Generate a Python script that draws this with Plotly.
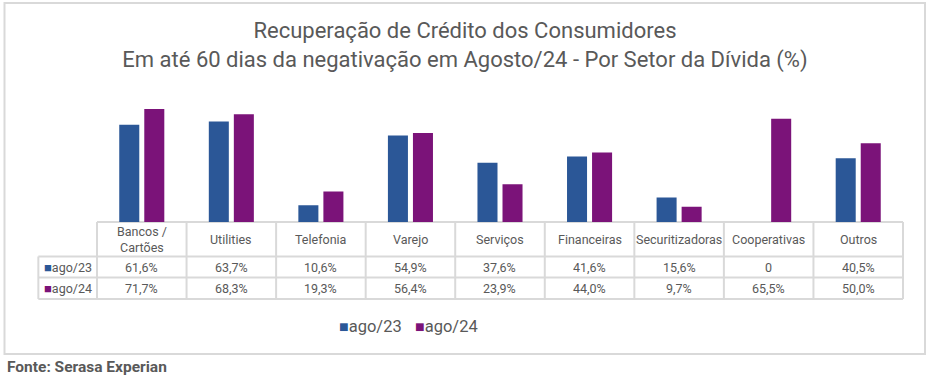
import plotly.graph_objects as go

categories = ["Bancos /<br>Cartões", "Utilities", "Telefonia", "Varejo", "Serviços",
              "Financeiras", "Securitizadoras", "Cooperativas", "Outros"]
series_names = ["ago/23", "ago/24"]
ago23 = [61.6, 63.7, 10.6, 54.9, 37.6, 41.6, 15.6, 0, 40.5]
ago24 = [71.7, 68.3, 19.3, 56.4, 23.9, 44.0, 9.7, 65.5, 50.0]
ago23_labels = ["61,6%", "63,7%", "10,6%", "54,9%", "37,6%", "41,6%", "15,6%", "0", "40,5%"]
ago24_labels = ["71,7%", "68,3%", "19,3%", "56,4%", "23,9%", "44,0%", "9,7%", "65,5%", "50,0%"]
colors = ["#2B5797", "#7B1379"]

W, H = 930, 385
TEXT = "#595959"
GRID = "#d9d9d9"
FONT = "Roboto"


def py(px):
    return (H - px) / H


def fx(px):
    return px / W


n = len(categories)
x_idx = list(range(n))

fig = go.Figure()
for name, vals, col in zip(series_names, [ago23, ago24], colors):
    fig.add_trace(go.Bar(x=x_idx, y=vals, name=name, marker_color=col,
                         marker_line_width=0, hoverinfo="skip", showlegend=False))

x_left = -1.155   # row-label column edge
x_min, x_max = -1.17, 8.52
px_per_unit = 806 / 9.0
dom_l = 97 - (-0.5 - x_min) * px_per_unit
dom_r = 903 + (x_max - 8.5) * px_per_unit

shapes = []
line = dict(color=GRID, width=2)
shapes.append(dict(type="line", xref="x", yref="paper", x0=-0.5, x1=n - 0.5,
                   y0=py(222), y1=py(222), line=line, layer="below"))
for yy in [256.5, 277.5, 299]:
    shapes.append(dict(type="line", xref="x", yref="paper", x0=x_left, x1=n - 0.5,
                       y0=py(yy), y1=py(yy), line=line, layer="below"))
for i in range(n + 1):
    xb = i - 0.5
    shapes.append(dict(type="line", xref="x", yref="paper", x0=xb, x1=xb,
                       y0=py(222), y1=py(299), line=line, layer="below"))
shapes.append(dict(type="line", xref="x", yref="paper", x0=x_left, x1=x_left,
                   y0=py(256.5), y1=py(299), line=line, layer="below"))
shapes.append(dict(type="rect", xref="paper", yref="paper", x0=fx(4.5), x1=fx(925),
                   y0=py(354), y1=py(3), line=dict(color=GRID, width=2), layer="below"))

tfont = dict(family=FONT, size=12.5, color=TEXT)
annotations = []
for i, c in enumerate(categories):
    annotations.append(dict(x=i, y=py(239.5), xref="x", yref="paper", text=c,
                            showarrow=False, font=tfont, xanchor="center", yanchor="middle"))
    annotations.append(dict(x=i, y=py(267), xref="x", yref="paper", text=ago23_labels[i],
                            showarrow=False, font=tfont, xanchor="center", yanchor="middle"))
    annotations.append(dict(x=i, y=py(288), xref="x", yref="paper", text=ago24_labels[i],
                            showarrow=False, font=tfont, xanchor="center", yanchor="middle"))
for name, col, yy in zip(series_names, colors, [267, 288]):
    annotations.append(dict(x=x_left + 0.04, y=py(yy), xref="x", yref="paper",
                            text=f'<span style="color:{col};font-size:13px">■</span>{name}',
                            showarrow=False, font=tfont, xanchor="left", yanchor="middle"))
# legend
for name, col, xl in zip(series_names, colors, [337, 413]):
    annotations.append(dict(x=fx(xl), y=py(326), xref="paper", yref="paper",
                            text=f'<span style="color:{col};font-size:16px">■</span>{name}',
                            showarrow=False, font=dict(family=FONT, size=16.5, color=TEXT),
                            xanchor="left", yanchor="middle"))
annotations.append(dict(x=fx(5), y=py(367), xref="paper", yref="paper",
                        text="<b>Fonte: Serasa Experian</b>", showarrow=False,
                        font=dict(family=FONT, size=15.5, color=TEXT),
                        xanchor="left", yanchor="middle"))

fig.update_layout(
    width=W, height=H,
    margin=dict(l=0, r=0, t=0, b=0),
    paper_bgcolor="white", plot_bgcolor="white",
    barmode="group", bargap=0.441, bargroupgap=0.2,
    title=dict(text="Recuperação de Crédito dos Consumidores<br>Em até 60 dias da negativação em Agosto/24 - Por Setor da Dívida (%)",
               x=fx(465), xanchor="center", y=py(38), yanchor="middle",
               font=dict(family=FONT, size=22, color=TEXT)),
    xaxis=dict(domain=[fx(dom_l), fx(dom_r)], range=[x_min, x_max], showgrid=False,
               zeroline=False, showticklabels=False, showline=False, fixedrange=True),
    yaxis=dict(domain=[py(222), py(222 - 80 * 1.577)], range=[0, 80], showgrid=False,
               zeroline=False, showticklabels=False, showline=False, fixedrange=True),
    showlegend=False,
    hovermode=False,
    shapes=shapes, annotations=annotations,
)

fig.write_html("out.html", config={"displayModeBar": False},
               post_script="document.body.style.margin='0px';")
